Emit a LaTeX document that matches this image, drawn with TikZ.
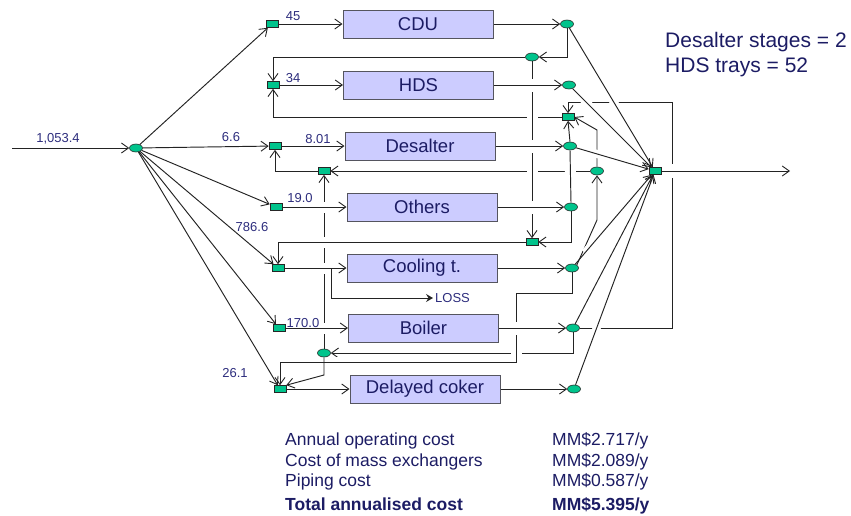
\documentclass[tikz,border=0pt]{standalone}
\usepackage{fontspec}
\setmainfont{Liberation Sans}
\usetikzlibrary{arrows.meta,shapes.geometric}
\definecolor{unitfill}{RGB}{204,204,255}
\definecolor{unitdraw}{RGB}{85,85,95}
\definecolor{nodefill}{RGB}{0,196,140}
\definecolor{ink}{RGB}{35,35,35}
\definecolor{navy}{RGB}{28,28,100}
\definecolor{numc}{RGB}{45,45,125}
\pgfdeclarelayer{edges}
\pgfsetlayers{edges,main}
\tikzset{
  flow/.style={draw=ink, line width=0.95pt, -{Straight Barb[length=7pt,width=10pt,line width=0.9pt]}},
  plain/.style={draw=ink, line width=0.95pt},
  halo/.style n args={3}{preaction={draw=white, line width=#1, -, shorten <=#2, shorten >=#3}},
  unit/.style={rectangle, draw=unitdraw, fill=unitfill, line width=1pt, minimum width=150pt,
    minimum height=28pt, inner sep=0pt, font=\fontsize{18.5}{20}\selectfont, text=navy},
  mix/.style={rectangle, draw=black!85, fill=nodefill, minimum width=12pt, minimum height=7pt,
    inner sep=0pt, line width=0.6pt},
  split/.style={ellipse, draw=black!85, fill=nodefill, minimum width=13pt, minimum height=8pt,
    inner sep=0pt, line width=0.6pt},
  flab/.style={font=\fontsize{13}{14}\selectfont, text=numc, inner sep=0pt},
  note/.style={font=\fontsize{21}{24}\selectfont, text=navy, inner sep=0pt, anchor=base west},
  cost/.style={font=\fontsize{17.5}{20}\selectfont, text=navy, inner sep=0pt, anchor=base west},
}
\begin{document}
\begin{tikzpicture}[x=1pt, y=-1pt]
\useasboundingbox (0,0) rectangle (851,515);

% ---- inlet splitter and feed mixers
\node[split] (S0) at (136,148) {};
\node[mix] (MC) at (272,24) {};
\node[mix] (MH) at (273,85) {};
\node[mix] (MD) at (275,146) {};
\node[mix] (MO) at (276,207) {};
\node[mix] (MT) at (278,268) {};
\node[mix] (MB) at (279,328) {};
\node[mix] (MK) at (280,389) {};

% ---- water-using units
\node[unit] (CDU)  at (418,24)    {CDU};
\node[unit] (HDS)  at (418.5,85)  {HDS};
\node[unit] (DES)  at (420,146)   {Desalter};
\node[unit] (OTH)  at (422,207)   {Others};
\node[unit] (COOL) at (422,268)   {Cooling t.};
\node[unit] (BOIL) at (423.5,328) {Boiler};
\node[unit] (DCK)  at (425,389)   {Delayed coker};

% ---- outlet splitters
\node[split] (SC) at (567,24) {};
\node[split] (SH) at (569,85) {};
\node[split] (SD) at (570,146) {};
\node[split] (SO) at (571,207) {};
\node[split] (ST) at (572,268) {};
\node[split] (SB) at (573,328) {};
\node[split] (SK) at (574,389) {};

% ---- recycle / reuse nodes and final mixer
\node[split] (R1) at (532,57) {};
\node[mix]   (R2) at (568,117) {};
\node[split] (R3) at (597,171) {};
\node[mix]   (R4) at (324,171) {};
\node[mix]   (R5) at (532,242) {};
\node[split] (R6) at (324,353) {};
\node[mix]   (MX) at (655,171) {};

\coordinate (feed) at (12,148);
\coordinate (prod) at (790,171);
\coordinate (lossfork) at (331,268);
\coordinate (losspt) at (433,298);
\coordinate (loopA) at (672,328);
\coordinate (loopB) at (672,102);
\coordinate (r3up) at (597,130);
\coordinate (tkink) at (597,220);
\coordinate (tdrop) at (572,293);
\coordinate (tleft) at (516,293);
\coordinate (tlow) at (516,362);
\coordinate (r6kink) at (324,375);

% ---- flow labels
\node[flab] (f0) at (58,139)  {1,053.4};
\node[flab] (f1) at (293,16)  {45};
\node[flab] (f2) at (293,78)  {34};
\node[flab] (f3) at (231,137) {6.6};
\node[flab] (f4) at (318,139) {8.01};
\node[flab] (f5) at (300,198) {19.0};
\node[flab] (f6) at (252,227) {786.6};
\node[flab] (f7) at (303,323) {170.0};
\node[flab] (f8) at (235,373) {26.1};
\node[flab, anchor=west] (losstxt) at (435,298) {LOSS};

% ---- design notes and costs
\node[note] (n1) at (665,47) {Desalter stages = 2};
\node[note] (n2) at (665,72) {HDS trays = 52};
\node[cost] (c1) at (285,445) {Annual operating cost};
\node[cost] (c2) at (285,466) {Cost of mass exchangers};
\node[cost] (c3) at (285,486) {Piping cost};
\node[cost, font=\fontsize{17.5}{20}\selectfont\bfseries] (c4) at (285,510) {Total annualised cost};
\node[cost] (v1) at (552,445) {MM\$2.717/y};
\node[cost] (v2) at (552,466) {MM\$2.089/y};
\node[cost] (v3) at (552,486) {MM\$0.587/y};
\node[cost, font=\fontsize{17.5}{20}\selectfont\bfseries] (v4) at (552,510) {MM\$5.395/y};

\begin{pgfonlayer}{edges}
% lines that pass underneath others
\draw[flow] (R2.west) -| (MH.south);
\draw[flow] (R3.west) -- (R4.east);
\draw[flow] (SB.east) -- (loopA) -- (loopB) -| (R2.north);
\draw[flow] (R3.north) -- (r3up) -- (R2.east);
\draw[flow] (SB.south) |- (R6.east);
\draw[flow] (R6.north) -- (R4.south);
\draw[flow] (SC.south) |- (R1.east);
\draw[flow] (R1.west) -| (MH.north);
\draw[flow] (SD.north) -- (R2.south);
\draw[flow] (SO.south) |- (R5.east);
\draw[flow] (ST.north east) -- (tkink) -- (R3.south);
\draw[flow] (R4.west) -| (MD.south);

% lines that cross over others
\draw[flow, halo={11pt}{6pt}{6pt}] (R1.south) -- (R5.north);
\draw[plain, halo={11pt}{4pt}{4pt}] (SD.south) -- (SO.north);
\draw[flow, halo={11pt}{6pt}{8pt}] (ST.south) -- (tdrop) -- (tleft) -- (tlow) -| (MK.north);
\foreach \s in {SC,SH,SD,ST,SB,SK}
  \draw[flow, halo={8pt}{15pt}{48pt}] (\s) -- (MX);
\draw[flow, halo={14pt}{8pt}{10pt}] (MX.east) -- (prod);
\foreach \u/\s in {CDU/SC,HDS/SH,DES/SD,OTH/SO,COOL/ST,BOIL/SB,DCK/SK}
  \draw[flow, halo={13pt}{6pt}{8pt}] (\u.east) -- (\s.west);
\foreach \m/\u in {MC/CDU,MH/HDS,MD/DES,MO/OTH,MT/COOL,MB/BOIL,MK/DCK}
  \draw[flow, halo={11pt}{6pt}{8pt}] (\m.east) -- (\u.west);
\draw[flow, halo={11pt}{6pt}{6pt}] (R5.west) -| (MT.north);

% remaining connections
\draw[flow] (R6.south) -- (r6kink) -- (MK.north east);
\draw[plain, -{Stealth[length=7pt,width=8pt,inset=2.5pt]}] (lossfork) |- (losspt);
\draw[flow] (feed) -- (S0.west);
\foreach \m in {MC,MD,MO,MT,MB,MK}
  \draw[flow] (S0) -- (\m);
\end{pgfonlayer}
\end{tikzpicture}
\end{document}
